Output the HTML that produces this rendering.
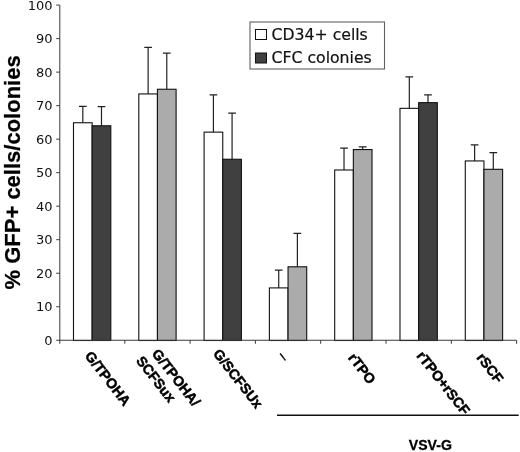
<!DOCTYPE html>
<html lang="en"><head><meta charset="utf-8"><title>% GFP+ cells/colonies</title>
<style>html,body{margin:0;padding:0;background:#fff;overflow:hidden}svg{display:block;will-change:transform}.t{font-family:"DejaVu Sans","Liberation Sans",sans-serif;fill:#111}.b{font-family:"Liberation Sans",Arial,Helvetica,sans-serif;font-weight:bold;fill:#000}</style></head><body>
<svg width="520" height="452" viewBox="0 0 520 452">
<rect width="520" height="452" fill="#fff"/>
<g stroke="#111" stroke-width="1.1">
<path d="M82.82 122.75V106.33M78.97 106.33H86.67" fill="none" stroke="#222" stroke-width="1.2"/>
<path d="M101.48 125.77V106.67M97.63 106.67H105.33" fill="none" stroke="#222" stroke-width="1.2"/>
<rect x="73.49" y="122.75" width="18.66" height="217.75" fill="#fff"/>
<rect x="92.15" y="125.77" width="18.66" height="214.73" fill="#404040"/>
<path d="M148.12 93.94V47.38M144.27 47.38H151.97" fill="none" stroke="#222" stroke-width="1.2"/>
<path d="M166.78 89.25V53.07M162.93 53.07H170.63" fill="none" stroke="#222" stroke-width="1.2"/>
<rect x="138.79" y="93.94" width="18.66" height="246.56" fill="#fff"/>
<rect x="157.45" y="89.25" width="18.66" height="251.25" fill="#ababab"/>
<path d="M213.42 132.13V94.94M209.57 94.94H217.27" fill="none" stroke="#222" stroke-width="1.2"/>
<path d="M232.08 159.26V113.03M228.23 113.03H235.93" fill="none" stroke="#222" stroke-width="1.2"/>
<rect x="204.09" y="132.13" width="18.66" height="208.37" fill="#fff"/>
<rect x="222.75" y="159.26" width="18.66" height="181.24" fill="#404040"/>
<path d="M278.72 287.90V270.15M274.87 270.15H282.57" fill="none" stroke="#222" stroke-width="1.2"/>
<path d="M297.38 266.80V233.30M293.53 233.30H301.23" fill="none" stroke="#222" stroke-width="1.2"/>
<rect x="269.39" y="287.90" width="18.66" height="52.60" fill="#fff"/>
<rect x="288.05" y="266.80" width="18.66" height="73.70" fill="#ababab"/>
<path d="M344.02 169.99V148.21M340.17 148.21H347.87" fill="none" stroke="#222" stroke-width="1.2"/>
<path d="M362.68 149.55V146.87M358.83 146.87H366.53" fill="none" stroke="#222" stroke-width="1.2"/>
<rect x="334.69" y="169.99" width="18.66" height="170.51" fill="#fff"/>
<rect x="353.35" y="149.55" width="18.66" height="190.95" fill="#ababab"/>
<path d="M409.32 108.34V76.85M405.47 76.85H413.17" fill="none" stroke="#222" stroke-width="1.2"/>
<path d="M427.98 102.65V94.94M424.13 94.94H431.83" fill="none" stroke="#222" stroke-width="1.2"/>
<rect x="399.99" y="108.34" width="18.66" height="232.16" fill="#fff"/>
<rect x="418.65" y="102.65" width="18.66" height="237.85" fill="#404040"/>
<path d="M474.62 160.94V144.86M470.77 144.86H478.47" fill="none" stroke="#222" stroke-width="1.2"/>
<path d="M493.28 169.31V152.56M489.43 152.56H497.13" fill="none" stroke="#222" stroke-width="1.2"/>
<rect x="465.29" y="160.94" width="18.66" height="179.56" fill="#fff"/>
<rect x="483.95" y="169.31" width="18.66" height="171.19" fill="#ababab"/>
</g>
<g stroke="#3a3a3a" stroke-width="1" fill="none">
<path d="M59.8 5.10V343.75"/>
<path d="M56.199999999999996 340.25H516.60"/>
<path d="M56.199999999999996 306.74H59.8"/>
<path d="M56.199999999999996 273.22H59.8"/>
<path d="M56.199999999999996 239.70H59.8"/>
<path d="M56.199999999999996 206.19H59.8"/>
<path d="M56.199999999999996 172.67H59.8"/>
<path d="M56.199999999999996 139.16H59.8"/>
<path d="M56.199999999999996 105.64H59.8"/>
<path d="M56.199999999999996 72.13H59.8"/>
<path d="M56.199999999999996 38.62H59.8"/>
<path d="M56.199999999999996 5.10H59.8"/>
<path d="M124.80 340.25V343.75"/>
<path d="M190.10 340.25V343.75"/>
<path d="M255.40 340.25V343.75"/>
<path d="M320.70 340.25V343.75"/>
<path d="M386.00 340.25V343.75"/>
<path d="M451.30 340.25V343.75"/>
<path d="M516.60 340.25V343.75"/>
</g>
<g class="t" font-size="13" text-anchor="end">
<text x="52.6" y="344.65">0</text>
<text x="52.6" y="311.13">10</text>
<text x="52.6" y="277.62">20</text>
<text x="52.6" y="244.10">30</text>
<text x="52.6" y="210.59">40</text>
<text x="52.6" y="177.07">50</text>
<text x="52.6" y="143.56">60</text>
<text x="52.6" y="110.04">70</text>
<text x="52.6" y="76.53">80</text>
<text x="52.6" y="43.02">90</text>
<text x="52.6" y="9.50">100</text>
</g>
<text class="b" font-size="22" stroke="#000" stroke-width="0.25" text-anchor="middle" transform="translate(20.4 172.4) rotate(-90)">% GFP+ cells/colonies</text>
<rect x="250" y="22" width="134.5" height="47" fill="#fff" stroke="#606060" stroke-width="1.1"/>
<rect x="255.5" y="29.5" width="11" height="10" fill="#fff" stroke="#111" stroke-width="1"/>
<rect x="255.5" y="53" width="11" height="10" fill="#404040" stroke="#111" stroke-width="1"/>
<text class="t" font-size="15.7" stroke="#111" stroke-width="0.2" x="271.5" y="39.7">CD34+ cells</text>
<text class="t" font-size="15.7" stroke="#111" stroke-width="0.2" x="271.5" y="63.4">CFC colonies</text>
<g class="b" font-size="14.1" stroke="#000" stroke-width="0.5" stroke-linejoin="round">
<text transform="translate(84.15 356.10) rotate(52.0)">G/TPOHA</text>
<text transform="translate(151.35 353.75) rotate(52.0)">G/TPOHA/</text>
<text transform="translate(135.45 360.90) rotate(52.0)">SCFSux</text>
<text transform="translate(212.40 353.85) rotate(52.0)">G/SCFSUx</text>
<text transform="translate(347.50 358.05) rotate(52.0)">rTPO</text>
<text transform="translate(415.95 355.95) rotate(52.0)">rTPO+rSCF</text>
<text transform="translate(475.90 357.75) rotate(52.0)">rSCF</text>
</g>
<text font-family="Liberation Sans,Arial,sans-serif" font-size="15" fill="#000" text-anchor="middle" stroke="#000" stroke-width="0.35" transform="translate(283.25 356.65) rotate(52) translate(0 4.2)">–</text>
<path d="M277 415.25H518.7" stroke="#111" stroke-width="1.5" fill="none"/>
<text class="b" font-size="14.1" stroke="#000" stroke-width="0.3" x="408.8" y="450.2">VSV-G</text>
</svg></body></html>
